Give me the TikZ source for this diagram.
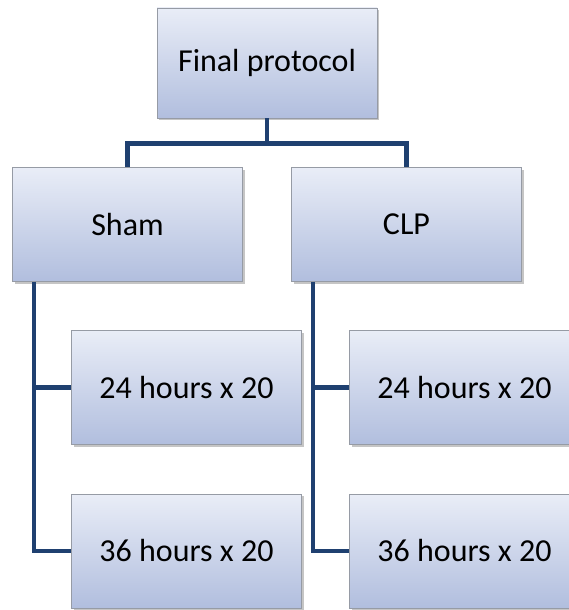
\documentclass[tikz,border=0pt]{standalone}
\usepackage{fontspec}
\setmainfont{Carlito}
\usetikzlibrary{shadows}

\definecolor{boxtop}{RGB}{233,237,247}
\definecolor{boxbottom}{RGB}{177,190,222}
\definecolor{boxedge}{RGB}{150,155,165}
\definecolor{linkblue}{RGB}{31,64,112}

\begin{document}
\begin{tikzpicture}[x=1pt, y=-1pt,
    box/.style={draw=boxedge, line width=0.8pt, top color=boxtop, bottom color=boxbottom,
        minimum width=230pt, minimum height=114pt, inner sep=0pt,
        drop shadow={shadow xshift=2pt, shadow yshift=-2pt, fill=black!45, opacity=0.5},
        font=\fontsize{32}{38}\selectfont},
    link/.style={draw=linkblue, line width=4.4pt, line join=miter}]
    \useasboundingbox (0,0) rectangle (569,610);

    % Boxes
    \node[box, minimum width=220pt, minimum height=110pt] (final) at (267,63) {Final protocol};
    \node[box] (sham) at (127.5,224.5) {Sham};
    \node[box] (clp) at (406.5,224.5) {CLP};
    \node[box] (sham24) at (186.5,387.5) {24 hours x 20};
    \node[box] (sham36) at (186.5,551) {36 hours x 20};
    \node[box] (clp24) at (464.5,387.5) {24 hours x 20};
    \node[box] (clp36) at (464.5,551) {36 hours x 20};

    % Connectors
    \draw[link] (final.south) -- ++(0,25) -| (sham.north);
    \draw[link] (final.south) -- ++(0,25) -| (clp.north);
    \draw[link] ([xshift=22pt]sham.south west) |- (sham24.west);
    \draw[link] ([xshift=22pt]sham.south west) |- (sham36.west);
    \draw[link] ([xshift=22pt]clp.south west) |- (clp24.west);
    \draw[link] ([xshift=22pt]clp.south west) |- (clp36.west);
\end{tikzpicture}
\end{document}
